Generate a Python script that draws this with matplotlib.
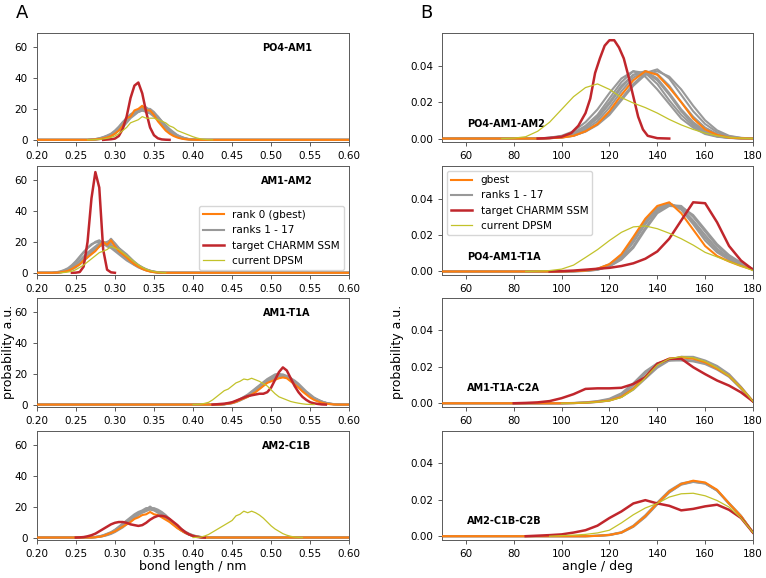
import numpy as np
import matplotlib
matplotlib.use("Agg")
from matplotlib import pyplot as plt

# ---------------- bond length distributions (step 0.005 nm) ----------------
# each curve: (first x, values)
po4_am1_orange = (0.27, [0.1, 0.3, 0.5, 1.0, 1.5, 2.5, 4, 6, 9, 14, 15, 19, 20, 22, 19, 19, 16, 12, 9, 6,
                         4, 2.5, 1.5, 0.8, 0.4, 0.2, 0.1])
po4_am1_gray = [
    (0.27, [0.1, 0.3, 0.6, 1.2, 2, 3, 5, 7, 10, 13, 15, 17, 19, 20, 21, 19, 17, 14, 11, 8, 5.5, 3.5, 2, 1.2, 0.6, 0.3, 0.1]),
    (0.27, [0.2, 0.5, 0.9, 1.6, 2.5, 3.5, 5.5, 8, 11, 14, 16, 18, 18, 19, 18, 17, 15, 13, 10, 7.5, 5, 3.5, 2.5, 1.5, 0.8, 0.4, 0.2, 0.1]),
    (0.27, [0.1, 0.2, 0.4, 0.8, 1.5, 2.5, 4, 6, 8, 11, 14, 16, 18, 19, 20, 20, 18, 15, 12, 9, 6.5, 4.5, 3, 1.8, 1, 0.5, 0.2, 0.1]),
    (0.27, [0.2, 0.4, 0.8, 1.4, 2.2, 3.5, 5, 7.5, 9.5, 12, 15, 17, 19, 21, 19, 18, 16, 14, 11, 8.5, 6, 4, 2.5, 1.5, 0.8, 0.4, 0.2, 0.1]),
    (0.27, [0.1, 0.3, 0.7, 1.3, 2, 3, 4.5, 6.5, 9, 12.5, 15.5, 17, 18.5, 19.5, 19, 18, 17, 15, 12, 9.5, 7, 5, 3, 2, 1, 0.5, 0.2, 0.1]),
    (0.27, [0.2, 0.5, 1, 1.8, 2.8, 4, 6, 8.5, 11.5, 14, 16.5, 18, 19, 19, 20, 18.5, 16, 13, 10, 7, 5, 3.2, 2, 1.2, 0.6, 0.3, 0.1]),
]
po4_am1_red = (0.29, [0.2, 0.4, 0.8, 2.5, 7, 15, 27, 35, 37, 30, 18, 8, 3, 1, 0.3, 0.1])
po4_am1_yellow = (0.27, [0.1, 0.2, 0.3, 0.6, 1, 1.6, 2.5, 4, 6, 8, 11, 12, 13, 15, 14, 14, 14, 13, 12, 11, 9, 8, 6, 5,
                         4, 3, 2, 1.2, 0.6, 0.3, 0.1])

am1_am2_orange = (0.225, [0.1, 0.3, 0.7, 1.3, 2.5, 4, 5.5, 8, 10, 12, 14, 17, 20, 18, 21, 17, 14, 12, 10, 7.5, 5.5, 4,
                          2.5, 1.5, 0.8, 0.4, 0.1])
am1_am2_gray = [
    (0.225, [0.2, 0.5, 1, 2, 3.5, 5.5, 8, 10.5, 13, 15, 17, 19, 20, 19, 18, 16, 14, 12, 10, 8, 6, 4.5, 3, 2, 1.2, 0.7, 0.3, 0.1]),
    (0.225, [0.1, 0.3, 0.7, 1.4, 2.5, 4, 6, 8.5, 11, 13, 15.5, 17, 18, 19, 22, 19, 16, 13.5, 11, 9, 7, 5, 3.5, 2.2, 1.3, 0.7, 0.3, 0.1]),
    (0.225, [0.3, 0.7, 1.4, 2.5, 4.5, 7, 10, 13, 16, 18, 20, 21, 19, 17, 16, 14, 12, 10, 8, 6.5, 5, 3.5, 2.5, 1.6, 1, 0.5, 0.2, 0.1]),
    (0.225, [0.1, 0.3, 0.6, 1.2, 2.2, 3.5, 5.5, 7.5, 10, 12.5, 15, 17, 19, 20, 21, 19, 16, 14, 12, 9.5, 7, 5, 3.5, 2.3, 1.4, 0.8, 0.4, 0.1]),
    (0.225, [0.2, 0.5, 1.1, 2, 3.2, 5, 7.5, 10, 12, 14, 16, 18, 18.5, 18, 19.5, 18, 15.5, 13, 10.5, 8.5, 6.5, 4.5, 3, 2, 1.2, 0.6, 0.3, 0.1]),
    (0.225, [0.4, 0.9, 1.8, 3, 5, 7.5, 10.5, 13.5, 16, 18.5, 19.5, 20, 18.5, 17.5, 17, 15, 13, 11, 9, 7, 5.2, 3.8, 2.6, 1.7, 1, 0.5, 0.2, 0.1]),
]
am1_am2_red = (0.25, [0.1, 0.5, 4, 20, 48, 65, 55, 15, 2, 0.3])
am1_am2_yellow = (0.235, [0.2, 0.5, 1, 2, 3.5, 5, 7, 9, 11, 13, 14, 15, 17, 16, 15, 13, 11, 9, 7, 5, 3.5, 2.3, 1.4, 0.8,
                          0.4, 0.2])

am1_t1a_orange = (0.44, [0.3, 0.6, 1, 1.8, 3, 4, 5, 6.5, 8, 10, 12, 14, 15, 16, 17, 17.5, 17, 15, 13, 11, 8.5, 6.5, 4.5,
                         3, 2, 1.2, 0.6, 0.3, 0.1])
am1_t1a_gray = [
    (0.44, [0.3, 0.6, 1.1, 2, 3.2, 4.5, 6, 7.5, 9.5, 11.5, 13.5, 15.5, 17, 18, 19, 19.5, 18.5, 17, 15, 12.5, 10, 7.5, 5.5, 4, 2.8, 1.8, 1.1, 0.6, 0.3, 0.1]),
    (0.44, [0.2, 0.5, 0.9, 1.6, 2.6, 3.8, 5, 6.5, 8.5, 10.5, 12.5, 14.5, 16, 17, 18, 18, 17.5, 16, 14, 12, 9.5, 7.5, 5.5, 4, 2.8, 1.8, 1, 0.5, 0.2, 0.1]),
    (0.44, [0.3, 0.7, 1.3, 2.2, 3.5, 5, 6.5, 8.5, 10.5, 12.5, 14.5, 16.5, 18, 19.5, 20, 19, 18, 16.5, 14, 11.5, 9, 7, 5, 3.5, 2.3, 1.4, 0.8, 0.4, 0.2, 0.1]),
    (0.44, [0.2, 0.5, 1, 1.8, 2.8, 4.2, 5.5, 7, 9, 11, 13, 15, 16.5, 17.5, 18.5, 19, 18, 17, 15.5, 13.5, 11, 8.5, 6.5, 4.5, 3.2, 2, 1.2, 0.6, 0.3, 0.1]),
    (0.44, [0.3, 0.6, 1.2, 2, 3, 4.5, 6, 8, 10, 12, 14, 15.5, 17, 18.5, 19, 18.5, 17.5, 16, 14.5, 12.5, 10, 8, 6, 4.2, 3, 1.9, 1.1, 0.6, 0.3, 0.1]),
]
am1_t1a_red = (0.43, [0.2, 0.4, 0.6, 1, 1.5, 2.5, 3.5, 4.5, 5.5, 6, 6.5, 7, 7, 8, 11, 16, 21, 24, 22, 17, 12, 8, 5, 3,
                      1.5, 0.8, 0.4, 0.1])
am1_t1a_yellow = (0.405, [0.1, 0.3, 0.8, 1.5, 3, 5, 7, 9, 10, 12, 14, 15, 16.5, 16, 17, 16, 15, 13.5, 12, 9.5, 7, 5, 4,
                          3, 2, 1.4, 0.9, 0.5, 0.2, 0.1])

am2_c1b_orange = (0.275, [0.2, 0.5, 1, 2, 3, 4, 5.5, 7, 8.5, 10, 12, 13, 14.5, 15, 16.5, 15, 14.5, 13, 11.5, 10, 8, 6,
                          4.5, 3, 2, 1, 0.5, 0.2])
am2_c1b_gray = [
    (0.27, [0.1, 0.3, 0.6, 1.2, 2, 3, 4.5, 6, 8, 10, 12, 14, 15.5, 17, 18, 20, 18, 17, 15, 13, 11, 9, 7, 5, 3.5, 2.2, 1.3, 0.7, 0.3, 0.1]),
    (0.27, [0.1, 0.2, 0.5, 1, 1.7, 2.7, 4, 5.5, 7.5, 9.5, 11.5, 13.5, 15, 16.5, 17.5, 18, 17.5, 16, 14.5, 12.5, 10.5, 8.5, 6.5, 4.5, 3, 1.8, 1, 0.5, 0.2, 0.1]),
    (0.27, [0.2, 0.4, 0.8, 1.5, 2.5, 3.5, 5, 7, 9, 11, 13, 15, 16.5, 17.5, 19, 19, 18.5, 17, 15.5, 13.5, 11, 8.5, 6.5, 4.5, 3, 1.8, 1, 0.5, 0.2, 0.1]),
    (0.27, [0.1, 0.2, 0.4, 0.9, 1.5, 2.3, 3.5, 5, 6.5, 8.5, 10.5, 12.5, 14.5, 16, 17, 18.5, 19, 18, 16.5, 14.5, 12, 9.5, 7.5, 5.5, 3.8, 2.5, 1.5, 0.8, 0.4, 0.1]),
    (0.27, [0.1, 0.3, 0.7, 1.3, 2.2, 3.2, 4.8, 6.5, 8.5, 10.5, 12.5, 14, 15.5, 16.5, 18, 19.5, 18, 16.5, 15, 13, 10.5, 8.5, 6.5, 4.8, 3.2, 2, 1.1, 0.6, 0.3, 0.1]),
]
am2_c1b_red = (0.255, [0.1, 0.3, 0.8, 1.5, 2.5, 4, 5.5, 7, 8.5, 9.5, 10, 10, 9.5, 8.5, 8, 7.5, 8, 9.5, 11.5, 13, 14, 14,
                       13.5, 12, 10, 8, 5.5, 3.5, 2, 1, 0.4, 0.1])
am2_c1b_yellow = (0.405, [0.1, 0.3, 1, 2, 3.5, 5, 6.5, 8, 9.5, 11, 14, 15, 17, 16, 17, 16, 14.5, 12.5, 10, 7.5, 5.5, 4,
                          2.5, 1.5, 0.8, 0.3, 0.1])

# ---------------- angle distributions (step 5 deg) ----------------
po4_am1_am2_orange = (95, [0.0002, 0.0005, 0.0015, 0.004, 0.008, 0.015, 0.024, 0.032, 0.037, 0.035, 0.028, 0.02, 0.011,
                           0.005, 0.002, 0.0005, 0.0001])
po4_am1_am2_gray = [
    (95, [0.0005, 0.0015, 0.004, 0.009, 0.016, 0.025, 0.033, 0.037, 0.034, 0.027, 0.019, 0.011, 0.006, 0.0025, 0.001, 0.0003, 0.0001]),
    (95, [0.0004, 0.0012, 0.003, 0.007, 0.013, 0.022, 0.031, 0.037, 0.036, 0.03, 0.021, 0.013, 0.007, 0.003, 0.0012, 0.0004, 0.0001]),
    (95, [0.0003, 0.001, 0.0025, 0.006, 0.011, 0.019, 0.028, 0.035, 0.037, 0.033, 0.025, 0.016, 0.009, 0.004, 0.0015, 0.0005, 0.0001]),
    (95, [0.0002, 0.0006, 0.0015, 0.004, 0.008, 0.014, 0.022, 0.03, 0.036, 0.038, 0.033, 0.024, 0.015, 0.008, 0.0035, 0.0012, 0.0003]),
    (95, [0.0004, 0.0011, 0.003, 0.0065, 0.012, 0.02, 0.029, 0.035, 0.0365, 0.032, 0.024, 0.015, 0.008, 0.0035, 0.0013, 0.0004, 0.0001]),
    (95, [0.0002, 0.0006, 0.0016, 0.0038, 0.0075, 0.013, 0.021, 0.029, 0.035, 0.037, 0.034, 0.027, 0.018, 0.01, 0.0045, 0.0015, 0.0004]),
    (95, [0.0003, 0.0008, 0.002, 0.005, 0.0095, 0.017, 0.026, 0.0335, 0.037, 0.0355, 0.029, 0.02, 0.012, 0.006, 0.0025, 0.0008, 0.0002]),
]
po4_am1_am2_red_x = [90, 95, 100, 104, 107, 110, 112, 114, 116, 118, 120, 122, 124, 126, 128, 130, 132, 134, 136, 140, 145]
po4_am1_am2_red_y = [0, 0.0003, 0.001, 0.003, 0.007, 0.014, 0.022, 0.036, 0.044, 0.051, 0.054, 0.054, 0.05, 0.044, 0.034,
                     0.023, 0.012, 0.005, 0.0015, 0.0002, 0]
po4_am1_am2_yellow = (80, [0.0002, 0.001, 0.004, 0.009, 0.016, 0.023, 0.028, 0.030, 0.027, 0.0225, 0.0195, 0.017, 0.014,
                           0.0105, 0.0075, 0.005, 0.003, 0.0015, 0.0006, 0.0002])

po4_am1_t1a_orange = (105, [0.0002, 0.0005, 0.0015, 0.004, 0.0095, 0.019, 0.029, 0.036, 0.038, 0.032, 0.023, 0.014,
                            0.0085, 0.0055, 0.003, 0.001])
po4_am1_t1a_gray = [
    (105, [0.0002, 0.0005, 0.0015, 0.004, 0.009, 0.018, 0.028, 0.035, 0.0375, 0.034, 0.026, 0.017, 0.0105, 0.0065, 0.0035, 0.001]),
    (105, [0.0001, 0.0004, 0.0012, 0.0035, 0.008, 0.016, 0.026, 0.034, 0.037, 0.035, 0.028, 0.02, 0.0125, 0.0075, 0.004, 0.001]),
    (105, [0.0001, 0.0003, 0.001, 0.003, 0.007, 0.014, 0.024, 0.033, 0.0365, 0.036, 0.03, 0.022, 0.014, 0.0085, 0.0045, 0.0012]),
    (105, [0.0002, 0.0004, 0.0013, 0.0038, 0.0085, 0.017, 0.027, 0.0345, 0.0375, 0.0345, 0.027, 0.0185, 0.0115, 0.007, 0.0038, 0.001]),
    (105, [0.0001, 0.0003, 0.0009, 0.0028, 0.0065, 0.013, 0.023, 0.032, 0.036, 0.0355, 0.031, 0.023, 0.015, 0.009, 0.0048, 0.0013]),
]
po4_am1_t1a_red = (100, [0.0002, 0.0005, 0.001, 0.0015, 0.002, 0.003, 0.0045, 0.007, 0.011, 0.018, 0.028, 0.038, 0.0375,
                         0.027, 0.014, 0.006, 0.001])
po4_am1_t1a_yellow = (90, [0.0002, 0.0005, 0.0013, 0.0035, 0.0077, 0.012, 0.017, 0.0215, 0.0245, 0.025, 0.0235, 0.021,
                           0.018, 0.0145, 0.0105, 0.008, 0.0055, 0.003, 0.0005])

am1_t1a_c2a_orange = (105, [0.0001, 0.0003, 0.0008, 0.0015, 0.0035, 0.008, 0.0145, 0.0215, 0.0245, 0.0252, 0.0245,
                            0.0225, 0.019, 0.015, 0.0085, 0.001])
am1_t1a_c2a_gray = [
    (105, [0.0001, 0.0004, 0.001, 0.002, 0.0045, 0.01, 0.0165, 0.0215, 0.0235, 0.024, 0.0235, 0.022, 0.019, 0.015, 0.0085, 0.001]),
    (105, [0.0001, 0.0003, 0.0007, 0.0015, 0.0035, 0.0075, 0.0135, 0.0195, 0.0235, 0.0255, 0.0255, 0.0235, 0.0205, 0.016, 0.009, 0.001]),
    (105, [0.0002, 0.0005, 0.0012, 0.0025, 0.0055, 0.011, 0.0175, 0.022, 0.0235, 0.0235, 0.023, 0.0215, 0.0185, 0.0145, 0.008, 0.001]),
    (105, [0.0001, 0.0003, 0.0008, 0.0017, 0.004, 0.0085, 0.015, 0.0205, 0.024, 0.0255, 0.025, 0.023, 0.0195, 0.0155, 0.0088, 0.001]),
]
am1_t1a_c2a_red = (85, [0.0002, 0.0005, 0.0012, 0.0028, 0.005, 0.0079, 0.0082, 0.0082, 0.0085, 0.0106, 0.0143, 0.0217,
                        0.0244, 0.0245, 0.0198, 0.016, 0.0125, 0.0097, 0.006, 0.001])
am1_t1a_c2a_yellow = (105, [0.0001, 0.0003, 0.0007, 0.0014, 0.0032, 0.0075, 0.014, 0.021, 0.0245, 0.0255, 0.025, 0.023,
                            0.0195, 0.015, 0.0085, 0.001])

am2_c1b_c2b_orange = (115, [0.0002, 0.0007, 0.002, 0.0055, 0.011, 0.018, 0.0245, 0.0287, 0.0305, 0.0295, 0.0255, 0.018,
                            0.011, 0.002])
am2_c1b_c2b_gray = [
    (115, [0.0002, 0.0006, 0.0019, 0.0052, 0.0105, 0.0175, 0.024, 0.0285, 0.03, 0.029, 0.025, 0.0178, 0.011, 0.002]),
    (115, [0.0003, 0.0008, 0.0022, 0.0058, 0.0115, 0.0185, 0.025, 0.029, 0.0302, 0.0292, 0.0252, 0.0182, 0.0112, 0.002]),
    (115, [0.0002, 0.0007, 0.002, 0.0053, 0.0108, 0.0178, 0.0242, 0.0283, 0.0298, 0.0289, 0.0251, 0.0179, 0.011, 0.002]),
]
am2_c1b_c2b_red = (90, [0.0003, 0.0006, 0.001, 0.002, 0.0033, 0.0058, 0.01, 0.0136, 0.018, 0.0198, 0.018, 0.0167,
                        0.0142, 0.015, 0.0164, 0.0173, 0.0145, 0.01, 0.002])
am2_c1b_c2b_yellow = (100, [0.0003, 0.0006, 0.001, 0.0018, 0.0033, 0.0073, 0.0118, 0.0155, 0.018, 0.0215, 0.0233,
                            0.0236, 0.0222, 0.0196, 0.016, 0.01, 0.002])

bond_names = ['PO4-AM1', 'AM1-AM2', 'AM1-T1A', 'AM2-C1B']
angle_names = ['PO4-AM1-AM2', 'PO4-AM1-T1A', 'AM1-T1A-C2A', 'AM2-C1B-C2B']

C_ORANGE = '#ff7f0e'
C_GRAY = '#999999'
C_RED = '#c0262c'
C_YELLOW = '#c2c22a'


def curve(c, step, lo=None, hi=None):
    # histogram-like line: one zero bin on each side, optionally run out to the axis limits
    x0, vals = c
    x = x0 + step * np.arange(len(vals))
    y = np.array(vals, dtype=float)
    x = np.concatenate([[x0 - step], x])
    y = np.concatenate([[0], y])
    if lo is not None:
        x = np.concatenate([[lo], x])
        y = np.concatenate([[0], y])
    if x[-1] < 179.9 and (hi is None or x[-1] < hi):
        x = np.concatenate([x, [x[-1] + step]])
        y = np.concatenate([y, [0]])
    if hi is not None and x[-1] < hi:
        x = np.concatenate([x, [hi]])
        y = np.concatenate([y, [0]])
    return x, y


fig = plt.figure(figsize=(7.66, 5.78), dpi=100)
plt.rcParams['font.size'] = 7.5

bond_panels = [
    (po4_am1_orange, po4_am1_gray, po4_am1_red, po4_am1_yellow),
    (am1_am2_orange, am1_am2_gray, am1_am2_red, am1_am2_yellow),
    (am1_t1a_orange, am1_t1a_gray, am1_t1a_red, am1_t1a_yellow),
    (am2_c1b_orange, am2_c1b_gray, am2_c1b_red, am2_c1b_yellow),
]
angle_panels = [
    (po4_am1_am2_orange, po4_am1_am2_gray, (po4_am1_am2_red_x, po4_am1_am2_red_y), po4_am1_am2_yellow),
    (po4_am1_t1a_orange, po4_am1_t1a_gray, po4_am1_t1a_red, po4_am1_t1a_yellow),
    (am1_t1a_c2a_orange, am1_t1a_c2a_gray, am1_t1a_c2a_red, am1_t1a_c2a_yellow),
    (am2_c1b_c2b_orange, am2_c1b_c2b_gray, am2_c1b_c2b_red, am2_c1b_c2b_yellow),
]

ax_h = 0.189
tops = [0.943, 0.713, 0.485, 0.255]


def style(ax):
    for s in ax.spines.values():
        s.set_color('0.35')
        s.set_linewidth(0.7)
    ax.tick_params(labelsize=7.5, width=0.7, length=3, color='0.35')


for i, (orange, grays, red, yellow) in enumerate(bond_panels):
    ax = fig.add_axes([0.048, tops[i] - ax_h, 0.408, ax_h])
    for j, g in enumerate(grays):
        ax.plot(*curve(g, 0.005, 0.2, 0.6), color=C_GRAY, lw=1.5,
                label='ranks 1 - 17' if j == 0 else None)
    ax.plot(*curve(orange, 0.005, 0.2, 0.6), color=C_ORANGE, lw=1.5, label='rank 0 (gbest)', zorder=4)
    ax.plot(*curve(red, 0.005), color=C_RED, lw=1.8, label='target CHARMM SSM', zorder=5)
    ax.plot(*curve(yellow, 0.005), color=C_YELLOW, lw=0.9, label='current DPSM', zorder=6)
    ax.set_xlim(0.2, 0.6)
    ax.set_ylim(-1.5, 69)
    ax.set_xticks(np.arange(0.2, 0.61, 0.05))
    ax.set_yticks([0, 20, 40, 60])
    ax.text(0.8, 0.86, bond_names[i], transform=ax.transAxes, ha='center', va='center',
            fontsize=7, fontweight='bold')
    style(ax)
    if i == 1:
        h, l = ax.get_legend_handles_labels()
        order = [l.index('rank 0 (gbest)'), l.index('ranks 1 - 17'),
                 l.index('target CHARMM SSM'), l.index('current DPSM')]
        ax.legend([h[k] for k in order], [l[k] for k in order], loc='lower right', fontsize=7.5)
    if i == 2:
        ax.set_ylabel('probability a.u.', fontsize=9, labelpad=0)
    if i == 3:
        ax.set_xlabel('bond length / nm', fontsize=9, labelpad=1)

for i, (orange, grays, red, yellow) in enumerate(angle_panels):
    ax = fig.add_axes([0.577, tops[i] - ax_h, 0.406, ax_h])
    for j, g in enumerate(grays):
        ax.plot(*curve(g, 5, 50, None), color=C_GRAY, lw=1.5,
                label='ranks 1 - 17' if j == 0 else None)
    ax.plot(*curve(orange, 5, 50, None), color=C_ORANGE, lw=1.5, label='gbest', zorder=4)
    if isinstance(red[0], list):
        ax.plot(red[0], red[1], color=C_RED, lw=1.8, label='target CHARMM SSM', zorder=5)
    else:
        ax.plot(*curve(red, 5), color=C_RED, lw=1.8, label='target CHARMM SSM', zorder=5)
    ax.plot(*curve(yellow, 5), color=C_YELLOW, lw=0.9, label='current DPSM', zorder=6)
    ax.set_xlim(50, 180)
    ax.set_ylim(-0.002, 0.058)
    ax.set_xticks(np.arange(60, 181, 20))
    ax.set_yticks([0, 0.02, 0.04])
    ax.yaxis.set_major_formatter(matplotlib.ticker.FormatStrFormatter('%.2f'))
    ax.text(0.08, 0.17, angle_names[i], transform=ax.transAxes, ha='left', va='center',
            fontsize=7, fontweight='bold')
    style(ax)
    if i == 1:
        h, l = ax.get_legend_handles_labels()
        order = [l.index('gbest'), l.index('ranks 1 - 17'),
                 l.index('target CHARMM SSM'), l.index('current DPSM')]
        ax.legend([h[k] for k in order], [l[k] for k in order], loc='upper left', fontsize=7.5)
    if i == 2:
        ax.set_ylabel('probability a.u.', fontsize=9)
    if i == 3:
        ax.set_xlabel('angle / deg', fontsize=9, labelpad=1)

fig.text(0.029, 0.977, 'A', fontsize=13, ha='center', va='center')
fig.text(0.556, 0.977, 'B', fontsize=13, ha='center', va='center')

fig.savefig('out.png', dpi=100)
